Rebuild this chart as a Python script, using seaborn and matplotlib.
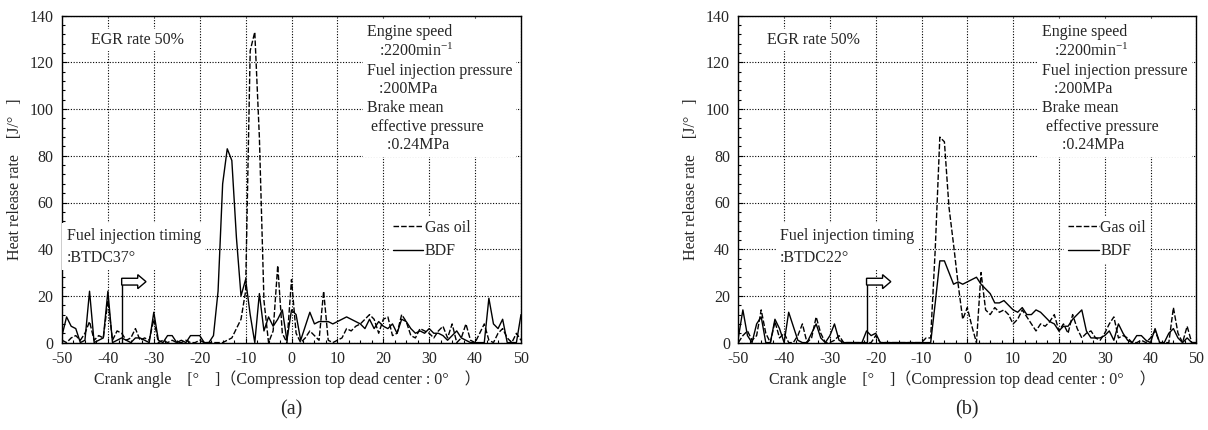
import matplotlib
matplotlib.use("Agg")
import matplotlib.pyplot as plt
from matplotlib.lines import Line2D
from matplotlib.patches import FancyArrow
from matplotlib.ticker import MultipleLocator
import pandas as pd
import seaborn as sns

# ---------------- data ----------------
angle = list(range(-50, 51))

gas_a = [1, 0, 2, 3, 1, 4, 9, 1, 3, 2,
         18, 1, 5, 4, 1, 2, 6, 1, 2, 1,
         10, 0, 1, 0, 1, 0, 0, 1, 0, 0,
         1, 0, 0, 0, 0, 0, 1, 2, 6, 10,
         22, 125, 133, 88, 18, 0, 5, 33, 4, 0,
         27, 4, 0, 2, 5, 3, 1, 22, 1, 0,
         1, 2, 6, 5, 7, 8, 10, 12, 10, 4,
         10, 11, 3, 4, 12, 9, 3, 2, 6, 5,
         4, 2, 5, 7, 2, 8, 0, 2, 8, 1,
         0, 4, 8, 1, 0, 4, 6, 2, 0, 4, 1]

bdf_a = [3, 11, 7, 6, 0, 1, 22, 0, 1, 2,
         22, 0, 1, 2, 1, 0, 2, 2, 1, 0,
         13, 1, 0, 3, 3, 0, 1, 0, 3, 3,
         3, 0, 0, 3, 22, 68, 83, 78, 45, 20,
         27, 12, 0, 21, 5, 11, 7, 10, 14, 1,
         14, 12, 1, 7, 13, 8, 9, 9, 9, 8,
         9, 10, 11, 10, 9, 8, 6, 10, 6, 9,
         7, 6, 8, 4, 10, 9, 6, 4, 5, 4,
         6, 4, 4, 3, 1, 3, 5, 2, 1, 0,
         0, 0, 0, 19, 8, 6, 10, 0, 0, 0, 12]

gas_b = [0, 3, 5, 1, 3, 14, 4, 0, 9, 2,
         4, 0, 0, 3, 8, 0, 2, 11, 4, 0,
         0, 1, 3, 0, 0, 0, 0, 0, 0, 0,
         3, 0, 0, 0, 0, 0, 0, 0, 0, 0,
         0, 2, 2, 40, 88, 86, 58, 42, 25, 10,
         15, 7, 0, 30, 14, 12, 15, 13, 14, 12,
         8, 10, 14, 11, 8, 5, 8, 7, 9, 12,
         5, 8, 4, 12, 6, 2, 4, 5, 2, 1,
         4, 8, 11, 2, 3, 2, 0, 0, 1, 0,
         2, 5, 0, 0, 0, 15, 4, 0, 7, 0, 0]

bdf_b = [2, 14, 3, 0, 8, 11, 0, 0, 10, 6,
         0, 13, 7, 1, 0, 0, 4, 8, 2, 0,
         3, 8, 1, 0, 0, 0, 0, 0, 5, 3,
         4, 0, 0, 0, 0, 0, 0, 0, 0, 0,
         0, 0, 0, 17, 35, 35, 30, 25, 26, 25,
         26, 27, 28, 25, 23, 21, 17, 17, 18, 16,
         14, 13, 15, 12, 12, 14, 13, 11, 9, 8,
         5, 7, 7, 10, 12, 14, 5, 2, 2, 2,
         3, 5, 1, 8, 4, 1, 0, 3, 3, 1,
         0, 6, 0, 0, 4, 6, 2, 0, 2, 0, 0]

fuels = ["Gas oil", "BDF"]
injection_timing = [-37, -22]
injection_text = ["Fuel injection timing\n:BTDC37°", "Fuel injection timing\n:BTDC22°"]
panel_labels = ["(a)", "(b)"]
x_ticks = list(range(-50, 51, 10))
y_ticks = list(range(0, 141, 20))

# ---------------- style ----------------
sns.set_theme(style="white")
plt.rcParams["font.family"] = ["Liberation Serif", "Noto Sans CJK JP", "DejaVu Sans"]
plt.rcParams["mathtext.fontset"] = "custom"
plt.rcParams["mathtext.rm"] = "Liberation Serif"
plt.rcParams["mathtext.it"] = "Liberation Serif:italic"
plt.rcParams["axes.unicode_minus"] = False

FS = 11.5
DASH = (4, 1.5)

W, H = 1208, 430
fig = plt.figure(figsize=(W / 100, H / 100), dpi=100)
ax_a = fig.add_axes([62 / W, 1 - 342.6 / H, 459 / W, 326.9 / H])
ax_b = fig.add_axes([738.3 / W, 1 - 342.6 / H, 458 / W, 326.9 / H])

conditions = ("Engine speed\n   :2200min$^{-1}$\nFuel injection pressure\n   :200MPa\n"
              "Brake mean\n effective pressure\n     :0.24MPa")

inj_x = [0.010, 0.091]

for i, (ax, gas, bdf) in enumerate([(ax_a, gas_a, bdf_a), (ax_b, gas_b, bdf_b)]):
    df = pd.DataFrame({
        "angle": angle * 2,
        "rate": gas + bdf,
        "fuel": [fuels[0]] * len(angle) + [fuels[1]] * len(angle),
    })
    sns.lineplot(data=df, x="angle", y="rate", style="fuel",
                 dashes={fuels[0]: DASH, fuels[1]: ""}, color="black",
                 lw=1.0, ax=ax, legend=False, zorder=2)

    ax.set_xlim(-50, 50)
    ax.set_ylim(0, 140)
    ax.set_xticks(x_ticks)
    ax.set_yticks(y_ticks)
    ax.xaxis.set_minor_locator(MultipleLocator(2.5))
    ax.yaxis.set_minor_locator(MultipleLocator(4))
    ax.grid(True, which="major", ls=(0, (1, 1.5)), color="black", lw=0.8)
    ax.set_axisbelow(True)
    ax.tick_params(which="both", direction="in", bottom=True, left=True,
                   top=False, right=False, color="black", width=0.8)
    ax.tick_params(which="major", length=3.5, labelsize=FS, pad=6)
    ax.tick_params(which="minor", length=2.5)
    for s in ax.spines.values():
        s.set_color("black")
        s.set_linewidth(1.0)

    ax.set_xlabel("Crank angle　[°　]（Compression top dead center : 0°　）", fontsize=FS)
    ax.set_ylabel("Heat release rate    [J/°   ]", fontsize=FS)
    ax.xaxis.set_label_coords(0.49, -0.085)
    ax.yaxis.set_label_coords(-0.086, 0.5)

    # texts
    box = dict(fc="white", ec="none", pad=2)
    ax.text(0.0625, 0.926, "EGR rate 50%", transform=ax.transAxes, fontsize=FS,
            ha="left", va="center", bbox=box, zorder=4)
    ax.text(0.664, 0.975, conditions, transform=ax.transAxes, fontsize=FS,
            ha="left", va="top", linespacing=1.22,
            bbox=dict(fc="white", ec="none", pad=3), zorder=4)
    ax.text(inj_x[i], 0.352, injection_text[i], transform=ax.transAxes, fontsize=FS,
            ha="left", va="top", linespacing=1.55,
            bbox=dict(fc="white", ec="none", pad=3), zorder=4)

    # injection timing marker
    t = injection_timing[i]
    ax.vlines(t, 0, 27.5, color="black", lw=1.0, zorder=5)
    ax.add_patch(FancyArrow(t, 26.1, 5.3, 0, width=2.9, head_width=6.0,
                            head_length=1.8, length_includes_head=True,
                            fc="white", ec="black", lw=1.0, zorder=5))

    handles = [Line2D([], [], color="black", lw=1.0, dashes=DASH),
               Line2D([], [], color="black", lw=1.0)]
    leg = ax.legend(handles, fuels, loc="upper left", bbox_to_anchor=(0.712, 0.387),
                    fontsize=FS, frameon=True, handlelength=1.9, handletextpad=0.1,
                    labelspacing=0.45, borderpad=0.25, borderaxespad=0.0)
    leg.get_frame().set_facecolor("white")
    leg.get_frame().set_edgecolor("none")
    leg.get_frame().set_alpha(1)
    leg.set_zorder(4)

    pos = ax.get_position()
    fig.text(pos.x0 + pos.width / 2, 1 - 410 / H, panel_labels[i], fontsize=14.5,
             ha="center", va="center")

fig.savefig("out.png", dpi=100)
